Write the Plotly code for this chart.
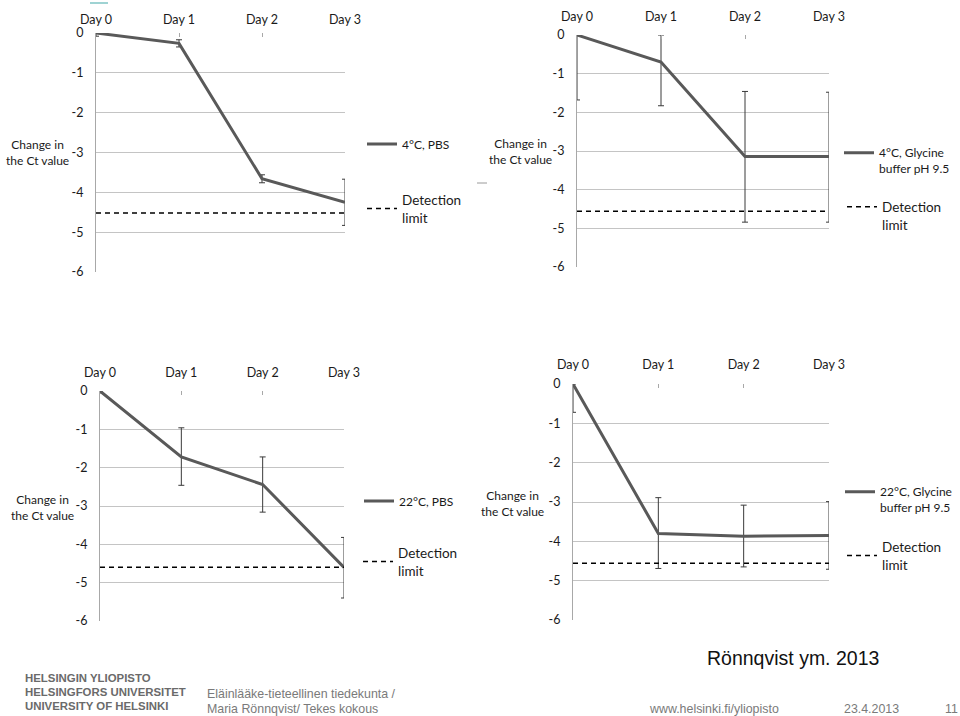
import plotly.graph_objects as go

# ---------------- data ----------------
days = ["Day 0", "Day 1", "Day 2", "Day 3"]
day_pos = [0, 1, 2, 3]
y_ticks = [0, -1, -2, -3, -4, -5, -6]
y_tick_labels = ["0", "-1", "-2", "-3", "-4", "-5", "-6"]

series_names = ["4°C, PBS", "4°C, Glycine<br>buffer pH 9.5",
                "22°C, PBS", "22°C, Glycine<br>buffer pH 9.5"]
limit_name = "Detection<br>limit"

ct_4_pbs = [0, -0.26, -3.66, -4.25]
err_up_4_pbs = [0.07, 0.09, 0.10, 0.58]
err_dn_4_pbs = [0.08, 0.09, 0.10, 0.58]
limit_4_pbs = -4.52

ct_4_gly = [0, -0.70, -3.14, -3.14]
err_up_4_gly = [0, 0.70, 1.68, 1.66]
err_dn_4_gly = [1.68, 1.13, 1.70, 1.70]
limit_4_gly = -4.56

ct_22_pbs = [0, -1.72, -2.44, -4.60]
err_up_22_pbs = [0, 0.76, 0.72, 0.78]
err_dn_22_pbs = [0.05, 0.74, 0.72, 0.80]
limit_22_pbs = -4.60

ct_22_gly = [0, -3.80, -3.87, -3.85]
err_up_22_gly = [0, 0.91, 0.79, 0.86]
err_dn_22_gly = [0.72, 0.89, 0.78, 0.86]
limit_22_gly = -4.56

# ---------------- layout helpers ----------------
W, H = 960, 716
def px(x):
    return x / W
def py(y):
    return 1 - y / H

FONT = "Lato"
LINE_COLOR = "#595959"
ERR_COLOR = "#3a3a3a"
GRID = "#c4c4c4"
AXIS = "#a8a8a8"
TXT = "#1a1a1a"

panels = [
    dict(ct=ct_4_pbs, up=err_up_4_pbs, dn=err_dn_4_pbs, lim=limit_4_pbs,
         xd=(96, 345), yd=(33, 272), title=(37, 152), xstand=6,
         leg=(362, 144, "middle"), leg2=(362, 209, "middle")),
    dict(ct=ct_4_gly, up=err_up_4_gly, dn=err_dn_4_gly, lim=limit_4_gly,
         xd=(577, 829), yd=(35, 267), title=(520, 151), xstand=11,
         leg=(839, 161, "top"), leg2=(842, 216, "top")),
    dict(ct=ct_22_pbs, up=err_up_22_pbs, dn=err_dn_22_pbs, lim=limit_22_pbs,
         xd=(100, 344), yd=(391, 621), title=(42, 507), xstand=11,
         leg=(359, 501, "middle"), leg2=(358, 562, "middle")),
    dict(ct=ct_22_gly, up=err_up_22_gly, dn=err_dn_22_gly, lim=limit_22_gly,
         xd=(573, 829), yd=(384, 620), title=(512, 503), xstand=12,
         leg=(840, 500, "top"), leg2=(842, 556, "middle")),
]

fig = go.Figure()
layout = dict(
    width=W, height=H, margin=dict(l=0, r=0, t=0, b=0, autoexpand=False),
    paper_bgcolor="white", plot_bgcolor="white", showlegend=True,
    font=dict(family=FONT, color=TXT, size=12),
    annotations=[], shapes=[],
)

for i, p in enumerate(panels):
    n = "" if i == 0 else str(i + 1)
    xa, ya = "x" + n, "y" + n
    lg_a = "legend" if i == 0 else "legend" + str(2 * i + 1)
    lg_b = "legend" + str(2 * i + 2)

    fig.add_trace(go.Scatter(
        x=day_pos, y=p["ct"], mode="lines", name=series_names[i],
        line=dict(color=LINE_COLOR, width=3),
        error_y=dict(type="data", symmetric=False, array=p["up"], arrayminus=p["dn"],
                     color=ERR_COLOR, thickness=1, width=3),
        cliponaxis=False, xaxis=xa, yaxis=ya, legend=lg_a, showlegend=True,
        hoverinfo="skip"))
    fig.add_trace(go.Scatter(
        x=[day_pos[0], day_pos[-1]], y=[p["lim"], p["lim"]], mode="lines",
        name=limit_name, line=dict(color="black", width=1.5, dash="5px,4px"),
        xaxis=xa, yaxis=ya, legend=lg_b, showlegend=True, hoverinfo="skip"))

    layout["xaxis" + n] = dict(
        domain=[px(p["xd"][0]), px(p["xd"][1])], anchor=ya, range=[0, 3],
        tickvals=day_pos, ticktext=days, side="top", ticks="inside", ticklen=4,
        tickcolor=AXIS, showgrid=False, showline=False, zeroline=False,
        tickfont=dict(family=FONT, size=12.5, color=TXT),
        ticklabelstandoff=p["xstand"], automargin=False, fixedrange=True)
    layout["yaxis" + n] = dict(
        domain=[py(p["yd"][1]), py(p["yd"][0])], anchor=xa, range=[-6, 0],
        tickvals=y_ticks, ticktext=y_tick_labels, showgrid=True, gridcolor=GRID,
        gridwidth=1, showline=True, linecolor=AXIS, linewidth=1, zeroline=False,
        ticks="", tickfont=dict(family=FONT, size=12.5, color=TXT),
        ticklabelstandoff=9, automargin=False, fixedrange=True)

    lx, ly, va = p["leg"]
    layout[lg_a] = dict(x=px(lx), y=py(ly), xanchor="left", yanchor="middle",
                        bgcolor="rgba(0,0,0,0)", valign=va, visible=True,
                        font=dict(family=FONT, size=12, color=TXT))
    lx, ly, va = p["leg2"]
    layout[lg_b] = dict(x=px(lx), y=py(ly), xanchor="left", yanchor="middle",
                        bgcolor="rgba(0,0,0,0)", valign=va, visible=True,
                        font=dict(family=FONT, size=13.5, color=TXT))

    tx, ty = p["title"]
    layout["annotations"].append(dict(
        x=px(tx), y=py(ty), xref="paper", yref="paper", showarrow=False,
        text="Change in<br>the Ct value", xanchor="center", yanchor="middle",
        font=dict(family=FONT, size=12, color=TXT), align="center"))

# small slide decorations
layout["shapes"].append(dict(type="line", xref="paper", yref="paper",
                             x0=px(90), x1=px(108), y0=py(3), y1=py(3),
                             line=dict(color="#7fc4c4", width=1.5)))
layout["shapes"].append(dict(type="line", xref="paper", yref="paper",
                             x0=px(477), x1=px(487), y0=py(183), y1=py(183),
                             line=dict(color="#9a9a9a", width=1)))

# footer texts
def ann(text, x, y, size, color, family="Liberation Sans", xanchor="left"):
    layout["annotations"].append(dict(
        x=px(x), y=py(y), xref="paper", yref="paper", showarrow=False,
        text=text, xanchor=xanchor, yanchor="middle",
        font=dict(family=family, size=size, color=color)))

ann("<b>HELSINGIN YLIOPISTO</b>", 23, 678, 11.4, "#6a6a6a")
ann("<b>HELSINGFORS UNIVERSITET</b>", 23, 692, 11.4, "#6a6a6a")
ann("<b>UNIVERSITY OF HELSINKI</b>", 23, 706, 11.4, "#6a6a6a")
ann("Eläinlääke-tieteellinen tiedekunta /", 205, 694, 12.4, "#7a7a7a")
ann("Maria Rönnqvist/ Tekes kokous", 205, 709, 12.4, "#7a7a7a")
ann("Rönnqvist ym. 2013", 705, 658, 19.5, "#111111")
ann("www.helsinki.fi/yliopisto", 647, 709, 12.4, "#7a7a7a")
ann("23.4.2013", 842, 709, 12.4, "#7a7a7a")
ann("11", 943, 709, 12.4, "#7a7a7a")

fig.update_layout(**layout)
fig.write_html("out.html")
